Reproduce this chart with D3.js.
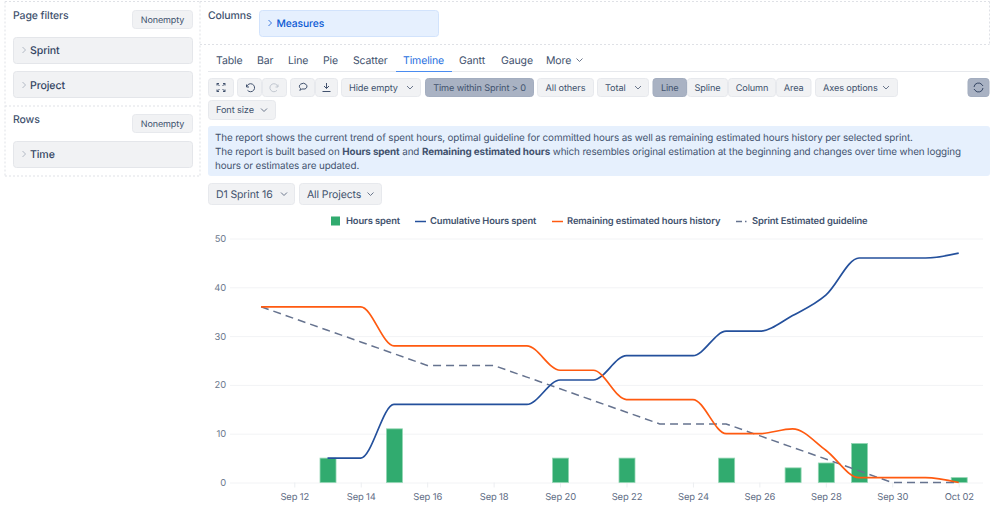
<!DOCTYPE html>
<html>
<head>
<meta charset="utf-8">
<script src="https://cdn.jsdelivr.net/npm/d3@7"></script>
<style>
  html, body { margin: 0; background: #fff; overflow: hidden; }
  svg { display: block; text-rendering: geometricPrecision; }
  text { font-family: Inter, "Noto Sans", sans-serif; letter-spacing: -0.12px; }
  .tick text { font-family: Inter, "Noto Sans", sans-serif; }
</style>
</head>
<body>
<svg id="page" width="999" height="515"></svg>
<script>
// chart data
const days = ['2023-09-11','2023-09-12','2023-09-13','2023-09-14','2023-09-15','2023-09-16','2023-09-17','2023-09-18',
  '2023-09-19','2023-09-20','2023-09-21','2023-09-22','2023-09-23','2023-09-24','2023-09-25','2023-09-26',
  '2023-09-27','2023-09-28','2023-09-29','2023-09-30','2023-10-01','2023-10-02']
const hoursSpent = [null,null,5,null,11,null,null,null,null,5,null,5,null,null,5,null,3,4,8,null,null,1]
const cumulative = [null,null,5,5,16,16,16,16,16,21,21,26,26,26,31,31,34.2,38.4,46,46,46,47]
const remaining = [36,36,36,36,28,28,28,28,28,23,23,17,17,17,10,10,11,6.6,1,1,1,0]
const guideline = [36,33.6,31.2,28.8,26.4,24,24,24,21.6,19.2,16.8,14.4,12,12,12,9.6,7.2,4.8,2.4,0,0,0]
const xTickDays = ['2023-09-12','2023-09-14','2023-09-16','2023-09-18','2023-09-20','2023-09-22',
  '2023-09-24','2023-09-26','2023-09-28','2023-09-30','2023-10-02']
const yTicks = [0,10,20,30,40,50]
const tabs = ['Table','Bar','Line','Pie','Scatter','Timeline','Gantt','Gauge','More']
const tabX = [216,257,288,323,353,403,459,501,546]

const ink = '#42526e'
const dark = '#344563'
const btnBg = '#f1f2f4'
const activeBg = '#a9b2c3'
const green = '#31ab6f'
const blue = '#24509c'
const orange = '#ff5a10'
const slate = '#66738f'

const svg = d3.select('#page')

function label (x, y, str, size, color, weight) {
  return svg.append('text')
    .attr('x', x).attr('y', y)
    .attr('dominant-baseline', 'central')
    .style('font-size', size + 'px')
    .style('font-weight', weight || 400)
    .attr('fill', color)
    .text(str)
}

function box (x, y, w, h, fill, stroke) {
  return svg.append('rect')
    .attr('x', x + 0.5).attr('y', y + 0.5)
    .attr('width', w - 1).attr('height', h - 1)
    .attr('rx', 3)
    .attr('fill', fill)
    .attr('stroke', stroke || '#e7e9ed')
}

function chevronDown (x, y) {
  svg.append('path')
    .attr('d', `M${x - 3},${y - 1.5} L${x},${y + 1.5} L${x + 3},${y - 1.5}`)
    .attr('fill', 'none').attr('stroke', '#6b778c').attr('stroke-width', 1)
}

function chevronRight (x, y, color) {
  svg.append('path')
    .attr('d', `M${x - 1.5},${y - 3} L${x + 1.5},${y} L${x - 1.5},${y + 3}`)
    .attr('fill', 'none').attr('stroke', color).attr('stroke-width', 1)
}

function button (x0, x1, y0, y1, str, opts) {
  opts = opts || {}
  box(x0, y0, x1 - x0, y1 - y0, opts.active ? activeBg : btnBg, opts.active ? '#a3adbf' : null)
  if (str) {
    const t = label(x0 + (opts.pad || 8), (y0 + y1) / 2 + 0.5, str, opts.size || 9.2, ink)
    if (opts.center) {
      t.attr('x', (x0 + x1) / 2).attr('text-anchor', 'middle')
    }
  }
  if (opts.chevron) chevronDown(opts.chevron, (y0 + y1) / 2)
}

function dashed (x0, y0, x1, y1) {
  svg.append('line')
    .attr('x1', x0).attr('y1', y0).attr('x2', x1).attr('y2', y1)
    .attr('stroke', '#dfe1e6').attr('stroke-dasharray', '2,2')
}

function icon (d, x, y, color) {
  svg.append('path')
    .attr('transform', `translate(${x},${y})`)
    .attr('d', d)
    .attr('fill', 'none')
    .attr('stroke', color || ink)
    .attr('stroke-width', 1)
}

/**
* left panels
*/
dashed(5, 1.5, 200, 1.5); dashed(5, 1.5, 5, 176); dashed(200, 1.5, 200, 176)
dashed(5, 106, 200, 106); dashed(5, 176, 200, 176)
label(13, 15.5, 'Page filters', 10.5, ink, 500)
button(132, 193, 10, 29, 'Nonempty', { center: true, size: 9 })
box(13, 37, 180, 27, btnBg, '#e4e6ea')
chevronRight(24, 50, '#b3bac5')
label(30, 50.5, 'Sprint', 10.6, dark, 500)
box(13, 71, 180, 27, btnBg, '#e4e6ea')
chevronRight(24, 85, '#b3bac5')
label(30, 85, 'Project', 10.6, dark, 500)
label(13, 119.5, 'Rows', 10.5, ink, 500)
button(132, 193, 114, 133, 'Nonempty', { center: true, size: 9 })
box(13, 141, 180, 27, btnBg, '#e4e6ea')
chevronRight(24, 154, '#b3bac5')
label(30, 154.5, 'Time', 10.6, dark, 500)

/**
* columns panel
*/
dashed(200, 1.5, 989.5, 1.5); dashed(989.5, 1.5, 989.5, 44.5); dashed(200, 44.5, 989.5, 44.5)
label(208, 15.5, 'Columns', 10.5, ink, 500)
box(259, 10, 180, 27, '#e6f0fe', '#d2e3fc')
chevronRight(270, 23, '#3b78de')
label(276.5, 23.5, 'Measures', 10.3, '#0c5ad4', 500)

/**
* tabs
*/
svg.append('line').attr('x1', 208).attr('x2', 989.5).attr('y1', 71.5).attr('y2', 71.5).attr('stroke', '#e7e9ed')
svg.append('line').attr('x1', 396).attr('x2', 452).attr('y1', 71.5).attr('y2', 71.5).attr('stroke', '#4a8cf0').attr('stroke-width', 1.2)
svg.selectAll('text.tab').data(tabs).join('text')
  .attr('class', 'tab')
  .attr('x', (d, i) => tabX[i])
  .attr('y', 60.5)
  .attr('dominant-baseline', 'central')
  .style('font-size', '10.5px')
  .attr('fill', d => d === 'Timeline' ? '#1f6fe0' : ink)
  .text(d => d)
chevronDown(579.5, 60)

/**
* toolbar
*/
button(208, 234, 78, 97)
icon('M-4,-4 L-1.5,-1.5 M4,-4 L1.5,-1.5 M-4,4 L-1.5,1.5 M4,4 L1.5,1.5 M-4,-2 V-4 H-2 M2,-4 H4 V-2 M-4,2 V4 H-2 M2,4 H4 V2', 221, 87.5)
button(237, 262, 78, 97)
button(262, 287, 78, 97)
icon('M-3.5,-3 V-0.5 H-1 M-3.3,-0.8 A4,4 0 1 1 -2.5,2.8', 250, 87.5)
icon('M3.5,-3 V-0.5 H1 M3.3,-0.8 A4,4 0 1 0 2.5,2.8', 274.5, 87.5, '#c1c7d0')
button(290, 315, 78, 97)
button(315, 338, 78, 97)
icon('M-3,3.5 L-1.5,2 H2 A3.8,3 0 1 0 -2.5,1.5 Z', 303, 87)
icon('M0,-4.5 V1 M-2.5,-1.5 L0,1 L2.5,-1.5 M-4,4 H4', 326.5, 87.5)
button(341, 421, 78, 97, 'Hide empty', { chevron: 410 })
button(425, 534, 78, 97, 'Time within Sprint > 0', { active: true, center: true })
button(537, 594, 78, 97, 'All others', { center: true })
button(597, 649, 78, 97, 'Total', { chevron: 638 })
button(652.5, 687, 78, 97, 'Line', { active: true, center: true })
button(687, 728, 78, 97, 'Spline', { center: true })
button(728, 776, 78, 97, 'Column', { center: true })
button(776, 811.5, 78, 97, 'Area', { center: true })
button(815, 898, 78, 97, 'Axes options', { chevron: 886 })
button(967.5, 989.5, 78, 97, null, { active: true })
icon('M-4.5,-0.5 A4.5,4.5 0 0 1 3.5,-2.8 L4.5,-1.5 M-4.5,1.5 L-3.5,2.8 A4.5,4.5 0 0 0 4.5,0.5', 978.5, 87.5, dark)
button(208, 276, 100, 120, 'Font size', { chevron: 264 })

/**
* info box
*/
svg.append('rect').attr('x', 208).attr('y', 126).attr('width', 782).attr('height', 50).attr('rx', 3).attr('fill', '#e6f0fd')
label(215, 137.5, 'The report shows the current trend of spent hours, optimal guideline for committed hours as well as remaining estimated hours history per selected sprint.', 9.86, ink)
const infoLine = label(215, 151.5, 'The report is built based on ', 9.86, ink)
infoLine.append('tspan').style('font-weight', 700).text('Hours spent')
infoLine.append('tspan').text(' and ')
infoLine.append('tspan').style('font-weight', 700).text('Remaining estimated hours')
infoLine.append('tspan').text(' which resembles original estimation at the beginning and changes over time when logging')
label(215, 165.5, 'hours or estimates are updated.', 9.86, ink)

button(208, 295, 183, 205, 'D1 Sprint 16', { chevron: 284, size: 10.5 })
button(299, 382, 183, 205, 'All Projects', { chevron: 370.5, size: 10.5 })

/**
* legend
*/
svg.append('rect').attr('x', 331).attr('y', 216.5).attr('width', 9).attr('height', 9).attr('fill', green)
label(346, 221.5, 'Hours spent', 9.4, ink, 600)
svg.append('line').attr('x1', 415).attr('x2', 426).attr('y1', 221.5).attr('y2', 221.5).attr('stroke', blue).attr('stroke-width', 1.5)
label(430, 221.5, 'Cumulative Hours spent', 9.4, ink, 600)
svg.append('line').attr('x1', 552).attr('x2', 563).attr('y1', 221.5).attr('y2', 221.5).attr('stroke', orange).attr('stroke-width', 1.5)
label(567, 221.5, 'Remaining estimated hours history', 9.4, ink, 600)
svg.append('line').attr('x1', 736).attr('x2', 749).attr('y1', 221.5).attr('y2', 221.5).attr('stroke', slate).attr('stroke-width', 1.5).attr('stroke-dasharray', '6,3,1.5,3')
label(752, 221.5, 'Sprint Estimated guideline', 9.4, ink, 600)

/**
* chart
*/
const parseDay = d3.utcParse('%Y-%m-%d')
const x = d3.scaleUtc().domain([parseDay('2023-09-12'), parseDay('2023-10-02')]).range([294.3, 958.7])
const y = d3.scaleLinear().domain([0, 50]).range([482.5, 238.5])
const plotLeft = 230
const plotRight = 983

const yAxis = svg.append('g')
  .attr('transform', `translate(${plotLeft},0)`)
  .call(d3.axisLeft(y).tickValues(yTicks).tickSize(plotLeft - plotRight).tickPadding(4))
yAxis.select('.domain').remove()
yAxis.selectAll('line').style('stroke', '#f2f3f5')
yAxis.selectAll('.tick').selectAll('text')
  .style('fill', '#6b778c')
  .style('font-size', '9.4px')

const xAxis = svg.append('g')
  .attr('transform', 'translate(0,482.5)')
  .call(d3.axisBottom(x)
    .tickValues(xTickDays.map(parseDay))
    .tickFormat(d3.utcFormat('%b %d'))
    .tickSize(5)
    .tickPadding(6))
xAxis.select('.domain').remove()
xAxis.selectAll('line').style('stroke', '#eceef1')
xAxis.selectAll('.tick').selectAll('text')
  .style('fill', '#5e6c84')
  .style('font-size', '9.4px')

const barWidth = 16
svg.selectAll('rect.bar')
  .data(days.map((d, i) => ({ day: parseDay(d), v: hoursSpent[i] })).filter(d => d.v !== null))
  .join('rect')
  .attr('class', 'bar')
  .attr('x', d => x(d.day) - barWidth / 2 + 0.5)
  .attr('y', d => y(d.v))
  .attr('width', barWidth)
  .attr('height', d => y(0) - y(d.v))
  .attr('fill', green)
  .attr('stroke', '#93d6b3')
  .attr('stroke-width', 0.8)

function drawSeries (values, color) {
  const line = d3.line()
    .defined(d => d.v !== null)
    .x(d => x(d.day))
    .y(d => y(d.v))
    .curve(d3.curveMonotoneX)
  svg.append('path')
    .datum(days.map((d, i) => ({ day: parseDay(d), v: values[i] })))
    .attr('d', line)
    .attr('fill', 'none')
    .attr('stroke', color)
    .attr('stroke-width', 1.7)
}

// guideline is straight segments, drawn as a dashed polyline
const guideLine = d3.line().x(d => x(d.day)).y(d => y(d.v))
svg.append('path')
  .datum(days.map((d, i) => ({ day: parseDay(d), v: guideline[i] })))
  .attr('d', guideLine)
  .attr('fill', 'none')
  .attr('stroke', slate)
  .attr('stroke-width', 1.5)
  .attr('stroke-dasharray', '8,5')

drawSeries(cumulative, blue)
drawSeries(remaining, orange)
</script>
</body>
</html>
